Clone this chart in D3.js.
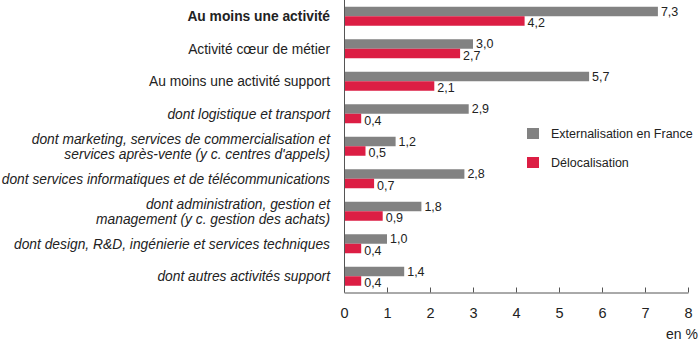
<!DOCTYPE html>
<html>
<head>
<meta charset="utf-8">
<script src="https://cdn.jsdelivr.net/npm/d3@7"></script>
<style>
  body { margin: 0; background: #fff; }
  svg { font-family: "Liberation Sans", Arial, sans-serif; }
</style>
</head>
<body>
<svg id="chart" width="700" height="342"></svg>
<script>
// categories (lines split for two-line labels)
var categories = [
    ["Au moins une activité"],
    ["Activité cœur de métier"],
    ["Au moins une activité support"],
    ["dont logistique et transport"],
    ["dont marketing, services de commercialisation et", "services après-vente (y c. centres d'appels)"],
    ["dont services informatiques et de télécommunications"],
    ["dont administration, gestion et", "management (y c. gestion des achats)"],
    ["dont design, R&D, ingénierie et services techniques"],
    ["dont autres activités support"]
];
var externalisation = [7.3, 3.0, 5.7, 2.9, 1.2, 2.8, 1.8, 1.0, 1.4];
var delocalisation = [4.2, 2.7, 2.1, 0.4, 0.5, 0.7, 0.9, 0.4, 0.4];
var xTicks = [0, 1, 2, 3, 4, 5, 6, 7, 8];
var seriesNames = ["Externalisation en France", "Délocalisation"];
var colors = ["#828282", "#dc1e44"];

var svg = d3.select("#chart");
var x0 = 344, x1 = 688, yTop = 0, yBottom = 292.5;

var x = d3.scaleLinear().domain([0, 8]).range([x0, x1]);
var y = d3.scaleBand().domain(d3.range(categories.length)).range([yTop, yBottom]);
var barH = 9.5;
var fmt = function (v) { return d3.format(".1f")(v).replace(".", ","); };

var rows = d3.range(categories.length).map(function (i) {
    return { i: i, lab: categories[i], vals: [externalisation[i], delocalisation[i]] };
});

// bars
var g = svg.append("g");
rows.forEach(function (r) {
    var c = y(r.i) + y.bandwidth() / 2;
    r.vals.forEach(function (v, k) {
        var top = k === 0 ? c - barH : c;
        g.append("rect")
            .attr("x", x(0))
            .attr("y", top)
            .attr("width", x(v) - x(0))
            .attr("height", barH)
            .attr("fill", colors[k]);
        g.append("text")
            .attr("x", x(v) + 3)
            .attr("y", top + barH / 2 + (k === 0 ? 0 : 2))
            .attr("dy", "0.35em")
            .attr("font-size", 12.5)
            .attr("fill", "#222")
            .text(fmt(v));
    });

    // category label
    var t = svg.append("text")
        .attr("x", 330)
        .attr("text-anchor", "end")
        .attr("font-size", 13.8)
        .attr("fill", "#222")
        .attr("font-weight", r.i === 0 ? "bold" : "normal")
        .attr("font-style", r.i >= 3 ? "italic" : "normal");
    var lh = 15;
    var startY = c - (r.lab.length - 1) * lh / 2;
    r.lab.forEach(function (line, j) {
        t.append("tspan")
            .attr("x", 330)
            .attr("y", startY + j * lh)
            .attr("dy", "0.35em")
            .text(line);
    });
});

// y axis line
svg.append("line")
    .attr("x1", x0 + 0.5).attr("x2", x0 + 0.5)
    .attr("y1", 0).attr("y2", yBottom)
    .attr("stroke", "#555").attr("stroke-width", 1);

// x axis, ticks pointing up
var xAxis = d3.axisBottom(x).tickValues(xTicks).tickSizeInner(-5).tickSizeOuter(0)
    .tickPadding(15).tickFormat(d3.format("d"));
var ax = svg.append("g")
    .attr("transform", "translate(0," + yBottom + ")")
    .call(xAxis);
ax.select(".domain").attr("stroke", "#555");
ax.selectAll(".tick line").attr("stroke", "#555");
ax.selectAll(".tick text").attr("font-size", 14.5).attr("fill", "#222")
    .attr("font-family", "Liberation Sans, Arial, sans-serif");

svg.append("text")
    .attr("x", 698).attr("y", 334).attr("dy", "0.35em")
    .attr("text-anchor", "end")
    .attr("font-size", 14).attr("fill", "#222")
    .text("en %");

// legend
var leg = svg.append("g").attr("transform", "translate(527,128)");
seriesNames.forEach(function (s, k) {
    leg.append("rect")
        .attr("x", 0).attr("y", k * 29)
        .attr("width", 12).attr("height", 11)
        .attr("fill", colors[k]);
    leg.append("text")
        .attr("x", 24).attr("y", k * 29 + 5.5).attr("dy", "0.35em")
        .attr("font-size", 12.5).attr("fill", "#222")
        .text(s);
});
</script>
</body>
</html>
